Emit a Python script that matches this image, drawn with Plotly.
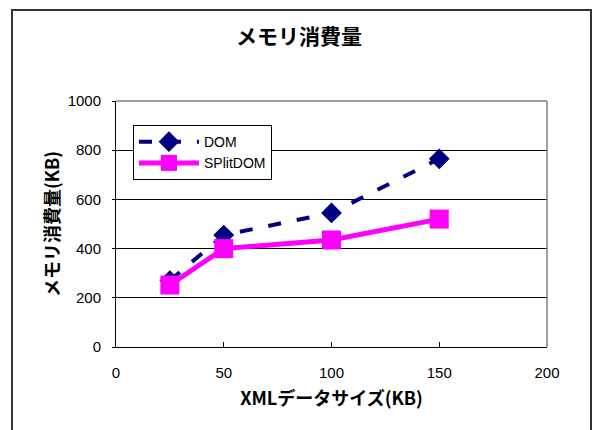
import plotly.graph_objects as go

# XML size (KB) and memory usage (KB)
sizes = [25, 50, 100, 150]
dom_memory = [270, 455, 545, 765]
splitdom_memory = [252, 400, 435, 520]

x_ticks = [0, 50, 100, 150, 200]
y_ticks = [0, 200, 400, 600, 800, 1000]

JP_FONT = "Noto Sans CJK JP"
LATIN_FONT = "Liberation Sans, Arial, sans-serif"

fig = go.Figure()

fig.add_trace(go.Scatter(
    x=sizes, y=dom_memory, name="DOM", mode="lines+markers",
    line=dict(color="#000080", width=4, dash="13px,16px"),
    marker=dict(symbol="diamond", size=16, color="#000080"),
))
fig.add_trace(go.Scatter(
    x=sizes, y=splitdom_memory, name="SPlitDOM", mode="lines+markers",
    line=dict(color="#FF00FF", width=5),
    marker=dict(symbol="square", size=19, color="#FF00FF"),
))

# outer chart frame
fig.add_shape(type="rect", xref="paper", yref="paper",
              x0=-0.2413, x1=1.1021, y0=-0.40, y1=1.3699,
              line=dict(color="#333333", width=2), layer="below")

fig.update_layout(
    width=592, height=430,
    margin=dict(l=116, r=45, t=101, b=83),
    paper_bgcolor="white", plot_bgcolor="white",
    showlegend=True,
    title=dict(text="<b>メモリ消費量</b>", x=0.505, xanchor="center",
               y=1 - 37 / 430, yanchor="middle",
               font=dict(family=JP_FONT, size=21, color="black")),
    legend=dict(x=0.0394, y=0.902, xanchor="left", yanchor="top",
                bgcolor="white", bordercolor="black", borderwidth=1,
                font=dict(family=LATIN_FONT, size=14, color="black"),
                itemwidth=60, tracegroupgap=0),
    font=dict(family=LATIN_FONT, size=15, color="black"),
    xaxis=dict(range=[0, 200], tickvals=x_ticks, showgrid=False,
               showline=True, linecolor="black", linewidth=1,
               ticks="inside", ticklen=5, tickcolor="black",
               ticklabelstandoff=12,
               mirror=False, zeroline=False,
               tickfont=dict(family=LATIN_FONT, size=15),
               title=dict(text="<b>XMLデータサイズ(KB)</b>", standoff=12,
                          font=dict(family=JP_FONT, size=18))),
    yaxis=dict(range=[0, 1000], tickvals=y_ticks, showgrid=True,
               gridcolor="black", gridwidth=1,
               showline=True, linecolor="black", linewidth=1,
               ticks="outside", ticklen=3, tickcolor="black",
               ticklabelstandoff=8,
               zeroline=False,
               tickfont=dict(family=LATIN_FONT, size=15),
               title=dict(text="<b>メモリ消費量(KB)</b>", standoff=3,
                          font=dict(family=JP_FONT, size=18))),
)

# gray top/right border of the plot area
fig.add_shape(type="line", xref="paper", yref="paper", x0=0, x1=1, y0=1, y1=1,
              line=dict(color="#808080", width=1.5))
fig.add_shape(type="line", xref="paper", yref="paper", x0=1, x1=1, y0=0, y1=1,
              line=dict(color="#808080", width=1.5))

fig.write_html("out.html")
